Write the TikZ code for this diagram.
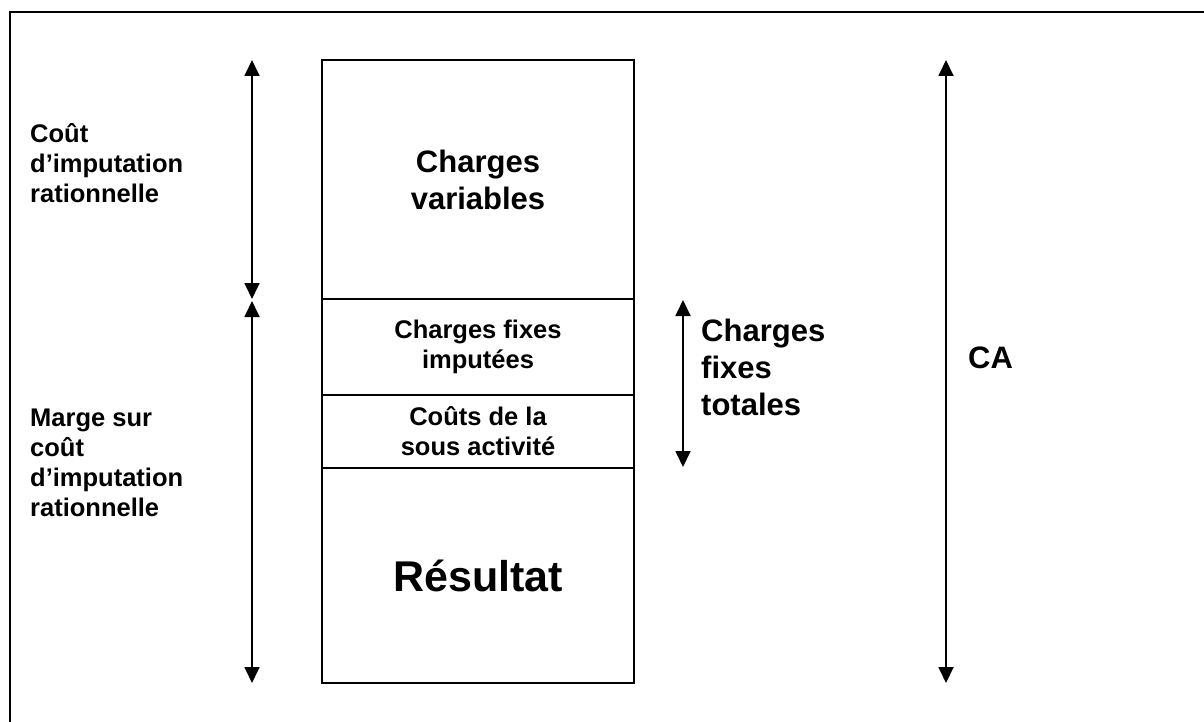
\documentclass[tikz,border=0pt]{standalone}
\usepackage{fontspec}
\setmainfont{Liberation Sans}
\usetikzlibrary{arrows.meta}
\begin{document}
\begin{tikzpicture}[x=1pt,y=-1pt,
  box/.style={draw,line width=2pt,minimum width=312pt,inner sep=0pt,align=center,
    font=\bfseries\fontsize{25.5}{30}\selectfont},
  lab/.style={inner sep=0pt,align=left,anchor=west,font=\bfseries\fontsize{25.5}{30}\selectfont},
  big/.style={font=\bfseries\fontsize{31}{37}\selectfont},
  dbl/.style={{Triangle[length=16pt,width=15pt]}-{Triangle[length=16pt,width=15pt]},line width=1.8pt}]
\useasboundingbox (0,0) rectangle (1204,722);
\begin{scope}
\clip (0,0) rectangle (1204,722);
\draw[line width=2.2pt] (10,12) rectangle (1230,750);
\end{scope}
% column
\node[box,big,minimum height=239pt] (cv) at (478,179.5) {Charges\\variables};
\node[box,minimum height=96pt] (cfi) at (478,347) {Charges fixes\\imputées};
\node[box,minimum height=73pt] (csa) at (478,431.5) {Coûts de la\\sous activité};
\node[box,minimum height=215pt,font=\bfseries\fontsize{43}{48}\selectfont] (res) at (478,575.5) {Résultat};
% arrows
\coordinate (a1t) at (252,60);
\coordinate (a1b) at (252,299);
\coordinate (a2t) at (252,301);
\coordinate (a2b) at (252,683);
\coordinate (mt) at (683,300);
\coordinate (mb) at (683,467);
\coordinate (ct) at (946,60);
\coordinate (cb) at (946,683);
\draw[dbl] (a1t) -- (a1b);
\draw[dbl] (a2t) -- (a2b);
\draw[dbl] (mt) -- (mb);
\draw[dbl] (ct) -- (cb);
% labels
\node[lab] (t1) at (30,163) {Coût\\d’imputation\\rationnelle};
\node[lab] (t2) at (30,463) {Marge sur\\coût\\d’imputation\\rationnelle};
\node[lab,big] (t3) at (701,367) {Charges\\fixes\\totales};
\node[lab,big] (t4) at (968,358) {CA};
\end{tikzpicture}
\end{document}
